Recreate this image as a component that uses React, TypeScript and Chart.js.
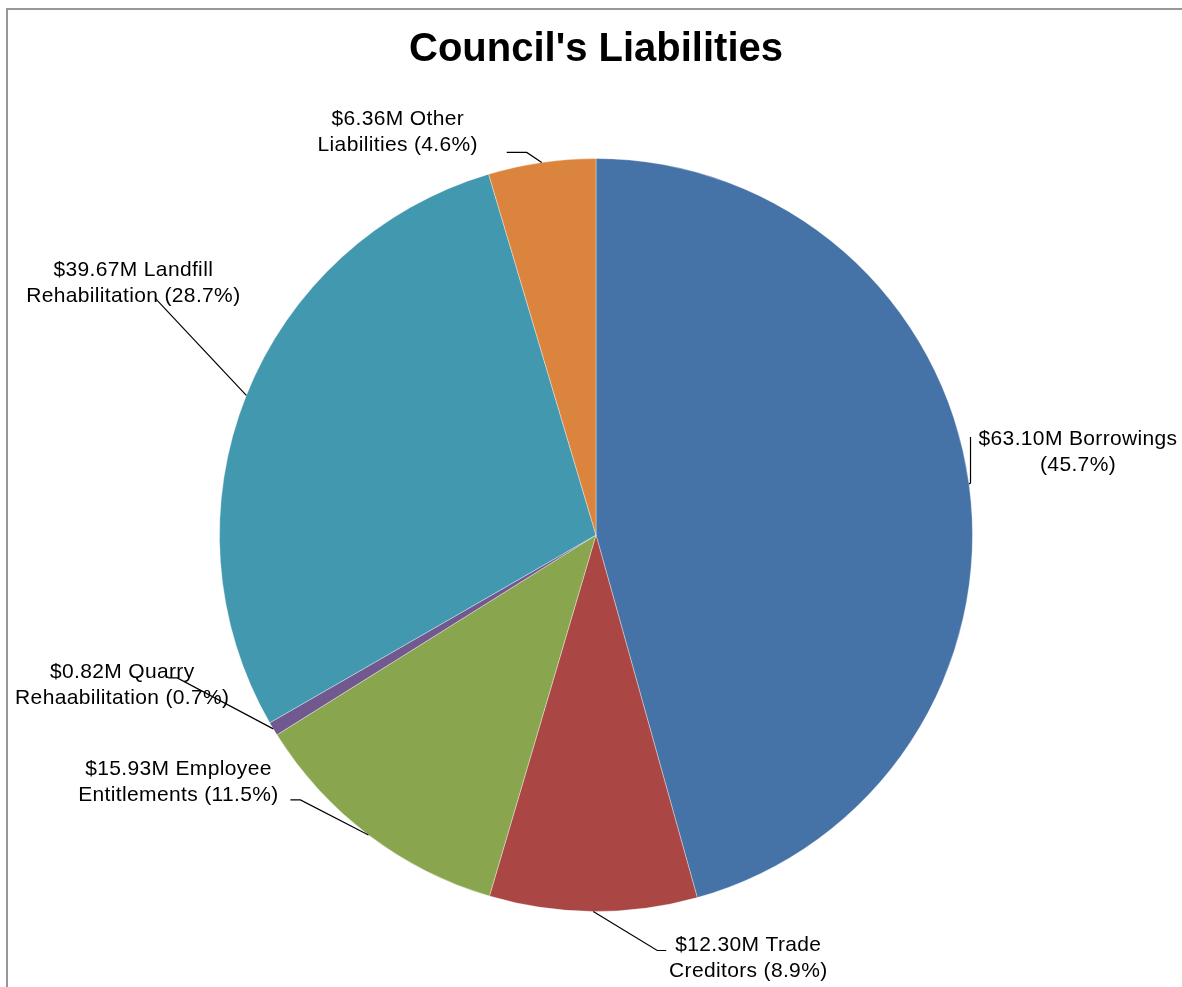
import React, { useEffect, useRef } from "react";
import { Chart, registerables } from "chart.js";

Chart.register(...registerables);

const categories = [
  "Borrowings",
  "Trade Creditors",
  "Employee Entitlements",
  "Quarry Rehaabilitation",
  "Landfill Rehabilitation",
  "Other Liabilities",
];
const valuesM = [63.1, 12.3, 15.93, 0.82, 39.67, 6.36];
const percentLabels = [45.7, 8.9, 11.5, 0.7, 28.7, 4.6];
const sliceColors = ["#4572A7", "#AA4643", "#89A54E", "#71588F", "#4198AF", "#DB843D"];

// label layout relative to the slice's outer mid-point (anchor)
const labelLayout = [
  { text: [109, -31.5], leader: [[1.5, -1], [1.5, -47]] },
  { text: [155, 46.5], leader: [[64, 39], [73, 39]] },
  { text: [-190, -52.5], leader: [[-68, -35], [-78, -35]] },
  { text: [-151, -44], leader: [[-96, -51], [-105, -51]] },
  { text: [-113, -112.5], leader: [[-91, -97]] },
  { text: [-144, -30.5], leader: [[-15, -10], [-35, -10]] },
];

const FONT = "'Liberation Sans', Arial, sans-serif";

const labelPlugin = {
  id: "sliceLabels",
  afterDraw(chart: any) {
    const ctx = chart.ctx as CanvasRenderingContext2D;
    const meta = chart.getDatasetMeta(0);
    meta.data.forEach((arc: any, i: number) => {
      const { x, y, outerRadius, startAngle, endAngle } = arc.getProps(
        ["x", "y", "outerRadius", "startAngle", "endAngle"],
        true
      );
      const mid = (startAngle + endAngle) / 2;
      const ax = x + outerRadius * Math.cos(mid);
      const ay = y + outerRadius * Math.sin(mid);
      const lay = labelLayout[i];
      ctx.save();
      ctx.strokeStyle = "#000";
      ctx.lineWidth = 1.2;
      ctx.beginPath();
      ctx.moveTo(ax, ay);
      lay.leader.forEach((p) => ctx.lineTo(ax + p[0], ay + p[1]));
      ctx.stroke();
      const name = categories[i];
      const sp = name.indexOf(" ");
      const first = sp >= 0 ? name.slice(0, sp) : name;
      const rest = sp >= 0 ? name.slice(sp + 1) + " " : "";
      const line1 = `$${valuesM[i].toFixed(2)}M ${first}`;
      const line2 = `${rest}(${percentLabels[i].toFixed(1)}%)`;
      ctx.fillStyle = "#000";
      ctx.font = `21px ${FONT}`;
      (ctx as any).letterSpacing = "0.35px";
      ctx.textAlign = "center";
      ctx.textBaseline = "middle";
      const cx = ax + lay.text[0];
      const cy = ay + lay.text[1];
      ctx.fillText(line1, cx, cy - 13);
      ctx.fillText(line2, cx, cy + 13);
      ctx.restore();
    });
  },
};

export default function App() {
  const ref = useRef<HTMLCanvasElement>(null);
  useEffect(() => {
    if (!ref.current) return;
    const chart = new Chart(ref.current, {
      type: "pie",
      data: {
        labels: categories,
        datasets: [
          {
            data: valuesM,
            backgroundColor: sliceColors,
            borderColor: "rgba(255,255,255,0.35)",
            borderWidth: 1,
          },
        ],
      },
      options: {
        responsive: false,
        animation: false,
        layout: { padding: { left: 219, right: 209, top: 0, bottom: 75 } },
        plugins: {
          legend: { display: false },
          tooltip: { enabled: false },
          title: {
            display: true,
            text: "Council's Liabilities",
            color: "#000",
            font: { family: FONT, size: 40, weight: "bold" },
            padding: { top: 26, bottom: 84 },
          },
        },
      },
      plugins: [labelPlugin],
    });
    return () => chart.destroy();
  }, []);
  return (
    <div>
      <div
        style={{
          position: "fixed",
          left: 6,
          top: 8,
          right: 0,
          bottom: 0,
          borderLeft: "2px solid #979797",
          borderTop: "2px solid #979797",
        }}
      />
      <canvas
        ref={ref}
        width={1182}
        height={987}
        style={{ position: "fixed", left: 0, top: 0, width: 1182, height: 987 }}
      />
    </div>
  );
}
